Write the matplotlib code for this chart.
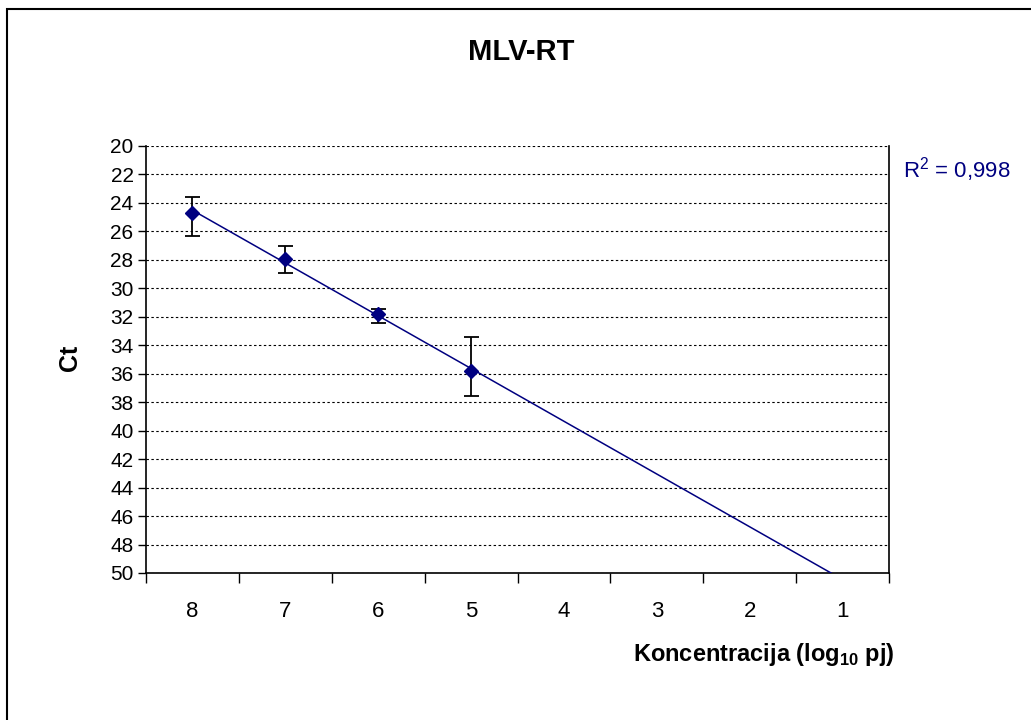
import numpy as np
import matplotlib
matplotlib.use('Agg')
import matplotlib.pyplot as plt
from matplotlib.patches import Rectangle

plt.rcParams['font.family'] = ['Liberation Sans', 'DejaVu Sans']
plt.rcParams['mathtext.fontset'] = 'custom'
plt.rcParams['mathtext.rm'] = 'Liberation Sans'
plt.rcParams['mathtext.bf'] = 'Liberation Sans:bold'

# data
categories = ['8', '7', '6', '5', '4', '3', '2', '1']
ct_mean = [24.73, 27.94, 31.83, 35.79]
err_up = [1.12, 0.94, 0.38, 2.39]    # towards smaller Ct (upwards on inverted axis)
err_down = [1.57, 0.96, 0.63, 1.76]  # towards larger Ct
r2_label = 'R$^2$ = 0,998'

navy = '#000080'

fig = plt.figure(figsize=(10.31, 7.2), dpi=100)
ax = fig.add_axes([146 / 1031, 1 - 573 / 720, (889 - 146) / 1031, (573 - 146) / 720])

idx = np.arange(len(ct_mean))
ax.errorbar(idx, ct_mean, yerr=[err_up, err_down], fmt='none', ecolor='black',
            elinewidth=1.3, capsize=5.4, capthick=1.3, zorder=3)
ax.plot(idx, ct_mean, linestyle='none', marker='D', markersize=7,
        color=navy, zorder=4)

# linear trend line, forecast forward and clipped by the axes
slope, icpt = np.polyfit(idx, ct_mean, 1)
xt = np.array([0, len(categories) - 0.5])
ax.plot(xt, slope * xt + icpt, color=navy, linewidth=1.1, zorder=3)

ax.set_xlim(-0.5, len(categories) - 0.5)
ax.set_ylim(50, 20)
ax.set_yticks(np.arange(20, 51, 2))
ax.yaxis.grid(True, color='black', linestyle=(0, (2.2, 2.2)), linewidth=0.8)
ax.set_axisbelow(True)

ax.set_xticks(np.arange(len(categories)))
ax.set_xticklabels(categories)
ax.set_xticks(np.arange(len(categories) + 1) - 0.5, minor=True)
ax.tick_params(axis='x', which='major', length=0, pad=20, labelsize=16)
ax.tick_params(axis='x', which='minor', length=7, width=1, direction='out')
ax.tick_params(axis='y', length=6, width=1, pad=3, labelsize=15)

ax.spines['top'].set_visible(False)
for s in ['left', 'bottom', 'right']:
    ax.spines[s].set_linewidth(1.2)

fig.text(0.506, 0.928, 'MLV-RT', ha='center', va='center',
         fontsize=21, fontweight='bold')
fig.text(895 / 1031, 1 - 655 / 720, r'Koncentracija (log$_{\mathbf{10}}$ pj)',
         ha='right', va='center', fontsize=17, fontweight='bold')
fig.text(70 / 1031, 1 - 358 / 720, 'Ct', ha='center', va='center',
         rotation=90, fontsize=18, fontweight='bold')
fig.text(903 / 1031, 1 - 170 / 720, r2_label, ha='left', va='center',
         fontsize=16, color=navy)

# outer chart frame
fig.patches.append(Rectangle((7 / 1031, -0.1), 1.2, 1 - 9 / 720 + 0.1,
                             transform=fig.transFigure, fill=False,
                             edgecolor='black', linewidth=1.5))

fig.savefig('out.png', dpi=100)
